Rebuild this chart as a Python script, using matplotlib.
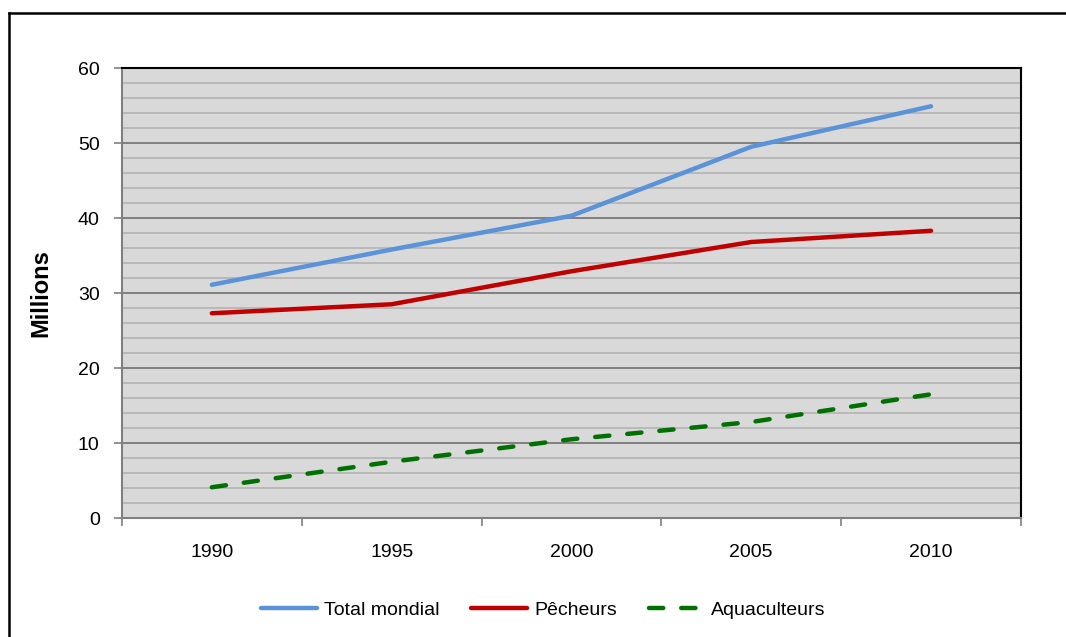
import matplotlib.pyplot as plt
from matplotlib.lines import Line2D
from matplotlib.ticker import MultipleLocator, FixedLocator, NullFormatter

plt.rcParams['font.family'] = ['Liberation Sans', 'DejaVu Sans']

years = ['1990', '1995', '2000', '2005', '2010']
total_mondial = [31.1, 35.8, 40.3, 49.5, 54.9]
pecheurs = [27.3, 28.5, 32.9, 36.8, 38.3]
aquaculteurs = [4.1, 7.5, 10.5, 12.8, 16.5]

fig = plt.figure(figsize=(10.66, 6.37), dpi=100)
ax = fig.add_axes([0.1144, 0.1868, 0.8433, 0.7064])
ax.set_facecolor('#d9d9d9')

x = list(range(len(years)))
ax.plot(x, total_mondial, color='#5b93d8', lw=3.2, solid_capstyle='round', label='Total mondial', zorder=3)
ax.plot(x, pecheurs, color='#c00000', lw=3.2, solid_capstyle='round', label='Pêcheurs', zorder=3)
ax.plot(x, aquaculteurs, color='#007000', lw=3.2, dashes=(3.2, 4.05), dash_capstyle='round',
        label='Aquaculteurs', zorder=3)

ax.set_xlim(-0.5, len(years) - 0.5)
ax.set_ylim(0, 60)
ax.yaxis.set_major_locator(MultipleLocator(10))
ax.yaxis.set_minor_locator(MultipleLocator(2))
ax.grid(which='minor', axis='y', color='#b3b3b3', lw=1.2)
ax.grid(which='major', axis='y', color='#707070', lw=1.2)
ax.set_axisbelow(True)

ax.xaxis.set_major_locator(FixedLocator(x))
ax.xaxis.set_minor_locator(FixedLocator([i - 0.5 for i in range(len(years) + 1)]))
ax.set_xticklabels(years)
ax.xaxis.set_minor_formatter(NullFormatter())
ax.tick_params(axis='x', which='major', length=0, pad=19, labelsize=14)
ax.tick_params(axis='x', which='minor', length=6, color='#808080', width=1.2)
ax.tick_params(axis='y', which='major', length=6, color='#808080', width=1.2, labelsize=14, pad=10)
ax.tick_params(axis='y', which='minor', length=0)

for s in ['left', 'bottom']:
    ax.spines[s].set_color('#808080')
    ax.spines[s].set_linewidth(1.5)
for s in ['top', 'right']:
    ax.spines[s].set_color('black')
    ax.spines[s].set_linewidth(1.5)

ax.set_ylabel('Millions', fontsize=17, fontweight='bold', labelpad=18)

ax.legend(loc='center', bbox_to_anchor=(0.469, -0.204), ncol=3, frameon=False,
          fontsize=14, handlelength=2.85, columnspacing=1.65, handletextpad=0.36)

# outer frame (top and left edges only visible)
fig.add_artist(Line2D([0.0085, 1.0], [1 - 13 / 637, 1 - 13 / 637], transform=fig.transFigure,
                      color='black', lw=1.8))
fig.add_artist(Line2D([0.0085, 0.0085], [0.0, 1 - 13 / 637], transform=fig.transFigure,
                      color='black', lw=1.8))

fig.savefig('out.png', dpi=100)
